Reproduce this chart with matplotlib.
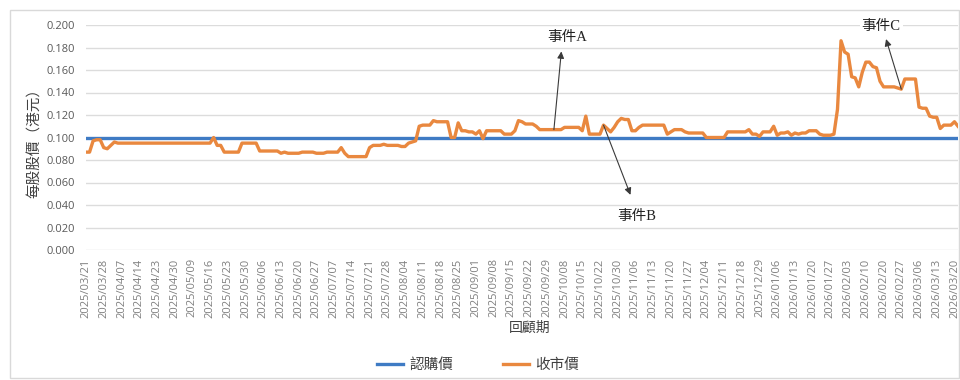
import matplotlib
matplotlib.use("Agg")
import matplotlib.pyplot as plt
from matplotlib.patches import Rectangle

plt.rcParams['font.family'] = ['Open Sans', 'Noto Sans CJK TC', 'DejaVu Sans']

# 收市價 (每個交易日)
closing_price = [
    0.087, 0.087, 0.097, 0.098, 0.098, 0.091, 0.090, 0.093, 0.096, 0.095,
    0.095, 0.095, 0.095, 0.095, 0.095, 0.095, 0.095, 0.095, 0.095, 0.095,
    0.095, 0.095, 0.095, 0.095, 0.095, 0.095, 0.095, 0.095, 0.095, 0.095,
    0.095, 0.095, 0.095, 0.095, 0.095, 0.095, 0.100, 0.093, 0.093, 0.087,
    0.087, 0.087, 0.087, 0.087, 0.095, 0.095, 0.095, 0.095, 0.095, 0.088,
    0.088, 0.088, 0.088, 0.088, 0.088, 0.086, 0.087, 0.086, 0.086, 0.086,
    0.086, 0.087, 0.087, 0.087, 0.087, 0.086, 0.086, 0.086, 0.087, 0.087,
    0.087, 0.087, 0.091, 0.086, 0.083, 0.083, 0.083, 0.083, 0.083, 0.083,
    0.091, 0.093, 0.093, 0.093, 0.094, 0.093, 0.093, 0.093, 0.093, 0.092,
    0.092, 0.095, 0.096, 0.097, 0.110, 0.111, 0.111, 0.111, 0.115, 0.114,
    0.114, 0.114, 0.114, 0.100, 0.100, 0.113, 0.106, 0.106, 0.105, 0.105,
    0.103, 0.106, 0.099, 0.106, 0.106, 0.106, 0.106, 0.106, 0.103, 0.103,
    0.103, 0.106, 0.115, 0.114, 0.112, 0.112, 0.112, 0.110, 0.107, 0.107,
    0.107, 0.107, 0.107, 0.107, 0.107, 0.109, 0.109, 0.109, 0.109, 0.109,
    0.106, 0.119, 0.103, 0.103, 0.103, 0.103, 0.111, 0.108, 0.105, 0.109,
    0.114, 0.117, 0.116, 0.116, 0.106, 0.106, 0.109, 0.111, 0.111, 0.111,
    0.111, 0.111, 0.111, 0.111, 0.103, 0.105, 0.107, 0.107, 0.107, 0.105,
    0.104, 0.104, 0.104, 0.104, 0.104, 0.100, 0.100, 0.100, 0.100, 0.100,
    0.100, 0.105, 0.105, 0.105, 0.105, 0.105, 0.105, 0.107, 0.103, 0.103,
    0.101, 0.105, 0.105, 0.105, 0.110, 0.102, 0.104, 0.104, 0.105, 0.102,
    0.104, 0.103, 0.104, 0.104, 0.106, 0.106, 0.106, 0.103, 0.102, 0.102,
    0.102, 0.103, 0.125, 0.186, 0.176, 0.174, 0.154, 0.153, 0.145, 0.158,
    0.167, 0.167, 0.163, 0.162, 0.150, 0.145, 0.145, 0.145, 0.145, 0.144,
    0.143, 0.152, 0.152, 0.152, 0.152, 0.127, 0.126, 0.126, 0.119, 0.118,
    0.118, 0.108, 0.111, 0.111, 0.111, 0.114, 0.110,
]

# 認購價
subscription_price = 0.100

# 每五個交易日一個刻度
tick_labels = [
    '2025/03/21', '2025/03/28', '2025/04/07', '2025/04/14', '2025/04/23',
    '2025/04/30', '2025/05/09', '2025/05/16', '2025/05/23', '2025/05/30',
    '2025/06/06', '2025/06/13', '2025/06/20', '2025/06/27', '2025/07/07',
    '2025/07/14', '2025/07/21', '2025/07/28', '2025/08/04', '2025/08/11',
    '2025/08/18', '2025/08/25', '2025/09/01', '2025/09/08', '2025/09/15',
    '2025/09/22', '2025/09/29', '2025/10/08', '2025/10/15', '2025/10/22',
    '2025/10/30', '2025/11/06', '2025/11/13', '2025/11/20', '2025/11/27',
    '2025/12/04', '2025/12/11', '2025/12/18', '2025/12/29', '2026/01/06',
    '2026/01/13', '2026/01/20', '2026/01/27', '2026/02/03', '2026/02/10',
    '2026/02/20', '2026/02/27', '2026/03/06', '2026/03/13', '2026/03/20',
]
tick_step = 5

# 事件: (名稱, 交易日序號, 文字位置, 箭頭位置)
events = [
    ('事件A', 132, (135.8, 0.189), (134.1, 0.1765)),
    ('事件B', 146, (155.4, 0.0296), (153.6, 0.0490)),
    ('事件C', 230, (224.3, 0.1985), (225.7, 0.1875)),
]

x = list(range(len(closing_price)))

fig = plt.figure(figsize=(9.6, 3.8), dpi=100)
fig.patches.append(Rectangle((10 / 960, 2 / 380), 949 / 960, 368 / 380,
                             transform=fig.transFigure, fill=False,
                             edgecolor='#d9d9d9', linewidth=1.0))

ax = fig.add_axes([86 / 960, 130 / 380, 872 / 960, 225 / 380])

blue = '#3f7bc4'
orange = '#e9883f'

ax.plot(x, [subscription_price] * len(x), color=blue, linewidth=2.4,
        label='認購價', zorder=3)
ax.plot(x, closing_price, color=orange, linewidth=2.4, label='收市價',
        zorder=4, solid_joinstyle='round')

ax.set_ylim(0, 0.2)
ax.set_xlim(0, len(x) - 1)
ax.set_yticks([i * 0.02 for i in range(11)])
ax.set_yticklabels([f'{i * 0.02:.3f}' for i in range(11)])
ax.set_xticks(list(range(0, len(tick_labels) * tick_step, tick_step)))
ax.set_xticklabels(tick_labels, rotation=90)
ax.tick_params(axis='y', length=0, pad=8, labelsize=8, labelcolor='#595959')
ax.tick_params(axis='x', length=0, pad=6, labelsize=8, labelcolor='#7f7f7f')
ax.grid(axis='y', color='#dcdcdc', linewidth=1.0)
ax.set_axisbelow(True)
for s in ax.spines.values():
    s.set_visible(False)

fig.text(35 / 960, 1 - 140 / 380, '每股股價（港元）', rotation=90,
         ha='center', va='center', fontsize=10.5, color='#404040',
         family=['Noto Sans CJK TC'])
fig.text(530 / 960, 1 - 328 / 380, '回顧期', ha='center', va='center',
         fontsize=10, color='#404040', family=['Noto Sans CJK TC'])

for name, idx, text_pos, head_pos in events:
    ax.annotate('', xy=head_pos, xytext=(idx, closing_price[idx]),
                arrowprops=dict(arrowstyle='-|>', color='#3a3a3a', lw=0.8,
                                mutation_scale=10, shrinkA=0, shrinkB=0),
                zorder=6, annotation_clip=False)
    ax.text(text_pos[0], text_pos[1], name, ha='center', va='center',
            fontsize=10.5, color='#222222',
            family=['Liberation Serif', 'Noto Sans CJK TC'],
            bbox=dict(facecolor='white', edgecolor='none', pad=1.5),
            zorder=7, clip_on=False)

fig.legend(loc='center', bbox_to_anchor=(478 / 960, 1 - 365 / 380), ncol=2,
           frameon=False, handlelength=1.8, columnspacing=3.4,
           handletextpad=0.4,
           prop={'family': 'Noto Sans CJK TC', 'size': 10.5},
           labelcolor='#404040')

fig.savefig('out.png', dpi=100)
